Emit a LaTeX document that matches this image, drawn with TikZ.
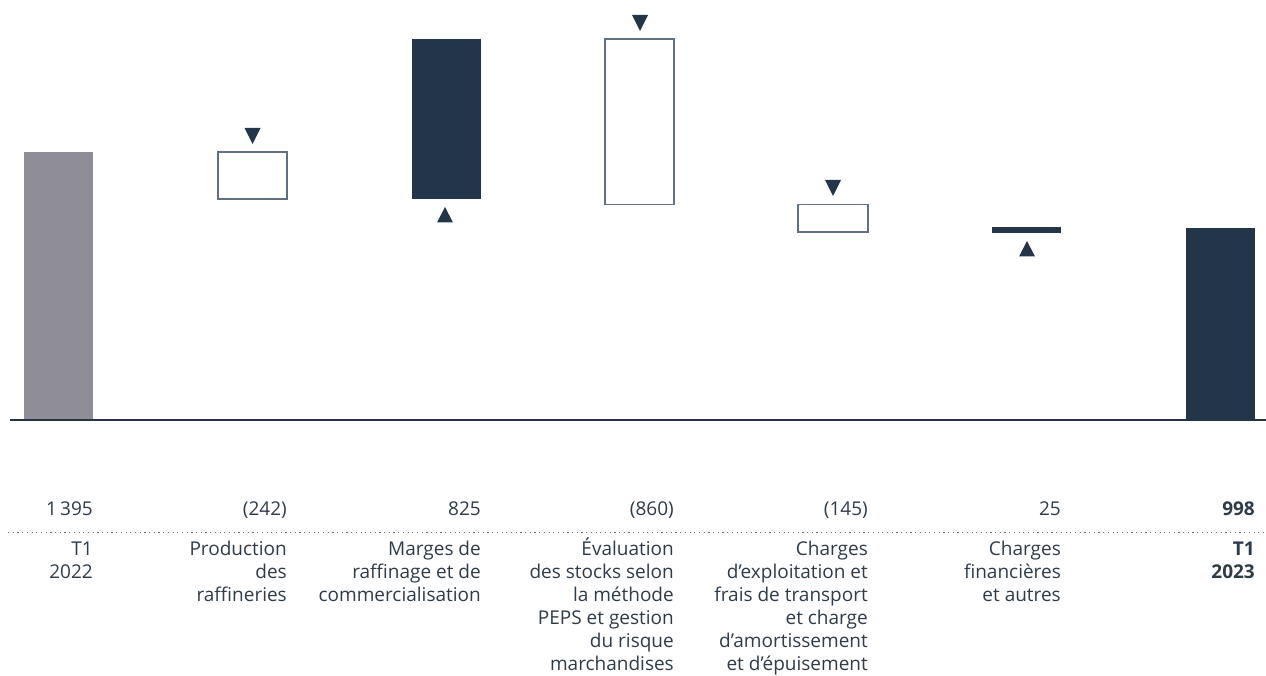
\documentclass[tikz,border=0pt]{standalone}
\usepackage{fontspec}
\setmainfont{Open Sans}
\definecolor{navy}{RGB}{35,54,73}
\definecolor{barGray}{RGB}{143,142,151}
\definecolor{txt}{RGB}{46,59,74}
\definecolor{edge}{RGB}{95,112,128}
\tikzset{
  darkbar/.style={fill=navy,draw=none},
  graybar/.style={fill=barGray,draw=none},
  openbar/.style={fill=white,draw=edge,line width=1.3pt},
  tri/.style={fill=navy,draw=none},
  val/.style={anchor=base east,inner sep=0pt,text=txt,font=\fontsize{19}{23}\selectfont},
  lab/.style={anchor=base east,inner sep=0pt,text=txt,align=right,font=\fontsize{19}{23}\selectfont},
}
\begin{document}
\begin{tikzpicture}[x=1pt,y=-1pt]
\useasboundingbox (0,0) rectangle (1266,676);
% bars
\fill[graybar] (24,152) rectangle (93,420);
\draw[openbar] (218,152) rectangle (287,199);
\fill[darkbar] (412,39) rectangle (481,199);
\draw[openbar] (605,39) rectangle (674,204.5);
\draw[openbar] (798,204.5) rectangle (868,232);
\fill[darkbar] (992,227) rectangle (1061,233);
\fill[darkbar] (1186,228) rectangle (1255,420);
% triangles
\fill[tri] (244.5,128) -- (260.5,128) -- (252.5,144) -- cycle;
\fill[tri] (437,222.5) -- (453,222.5) -- (445,207) -- cycle;
\fill[tri] (632,15) -- (648,15) -- (640,31) -- cycle;
\fill[tri] (825,180) -- (841,180) -- (833,196) -- cycle;
\fill[tri] (1019,256.5) -- (1035,256.5) -- (1027,241) -- cycle;
% axis
\draw[navy,line width=1.5pt] (10,420) -- (1266,420);
% values
\node[val] (v1) at (93,515) {1\,395};
\node[val] (v2) at (287,515) {(242)};
\node[val] (v3) at (481,515) {825};
\node[val] (v4) at (674,515) {(860)};
\node[val] (v5) at (868,515) {(145)};
\node[val] (v6) at (1061,515) {25};
\node[val,font=\fontsize{19}{23}\selectfont\bfseries] (v7) at (1255,515) {998};
% dotted separator
\draw[edge,line width=1.2pt,dash pattern=on 1.2pt off 3.5pt] (8,532.5) -- (1266,532.5);
% labels (anchor = baseline of last line; first line baseline at 555.5, pitch 23)
\node[lab] (l1) at (93,578.5) {T1\\2022};
\node[lab] (l2) at (287,601.5) {Production\\des\\raffineries};
\node[lab] (l3) at (481,601.5) {Marges de\\raffinage et de\\commercialisation};
\node[lab] (l4) at (674,670.5) {Évaluation\\des stocks selon\\la méthode\\PEPS et gestion\\du risque\\marchandises};
\node[lab] (l5) at (868,670.5) {Charges\\d’exploitation et\\frais de transport\\et charge\\d’amortissement\\et d’épuisement};
\node[lab] (l6) at (1061,601.5) {Charges\\financières\\et autres};
\node[lab,font=\fontsize{19}{23}\selectfont\bfseries] (l7) at (1255,578.5) {T1\\2023};
\end{tikzpicture}
\end{document}
